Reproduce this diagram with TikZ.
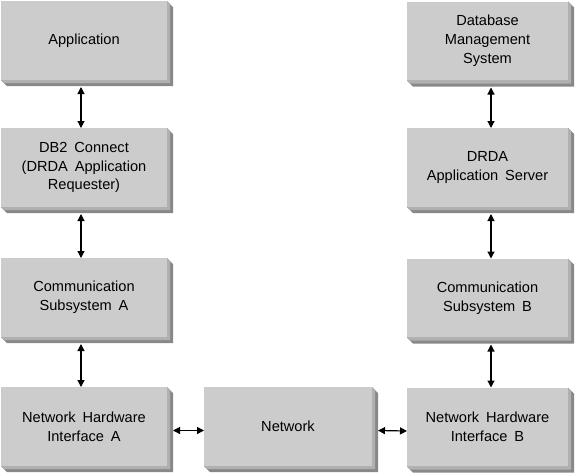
\documentclass[tikz,border=0pt]{standalone}
\usepackage{fontspec}
\setmainfont{Liberation Sans}[WordSpace=1.7]
\usetikzlibrary{arrows.meta}

\definecolor{boxgray}{RGB}{204,204,204}
\definecolor{bevelinner}{RGB}{176,176,176}
\definecolor{bevelouter}{RGB}{136,136,136}

\tikzset{
  layer/.style={rectangle, fill=boxgray, inner sep=0pt, outer sep=0pt,
    minimum height=79pt, align=center,
    font=\fontsize{14.6}{18.8}\selectfont},
  leftlayer/.style={layer, minimum width=166pt},
  rightlayer/.style={layer, minimum width=161pt},
  link/.style={line width=1.2pt, {Triangle[length=7pt,width=7pt]}-{Triangle[length=7pt,width=7pt]}}
}

\begin{document}
\begin{tikzpicture}[x=1pt,y=-1pt]
    \useasboundingbox (0,0) rectangle (581,475);

    % Draw the requester side
    \node[leftlayer] (app)  at (84,40.5)  {Application};
    \node[leftlayer] (db2)  at (84,167.5) {DB2 Connect\\(DRDA Application\\Requester)};
    \node[leftlayer] (comA) at (84,297.5) {Communication\\Subsystem A};
    \node[leftlayer] (hwA)  at (84,426.5) {Network Hardware\\Interface A};

    % Draw the network in the middle
    \node[layer, minimum width=168pt] (net) at (288,426.5) {Network};

    % Draw the server side
    \node[rightlayer] (dbms) at (487.5,41)    {Database\\Management\\System};
    \node[rightlayer] (drda) at (487.5,167.5) {DRDA\\Application Server};
    \node[rightlayer] (comB) at (487.5,298)   {Communication\\Subsystem B};
    \node[rightlayer] (hwB)  at (487.5,427)   {Network Hardware\\Interface B};

    % Draw the bevelled edges
    \foreach \n in {app,db2,comA,hwA,net,dbms,drda,comB,hwB} {
      \fill[bevelouter] (\n.north east) -- ([shift={(6,6)}]\n.north east)
        -- ([shift={(6,6)}]\n.south east) -- ([shift={(6,6)}]\n.south west)
        -- (\n.south west) -- (\n.south east) -- cycle;
      \fill[bevelinner] (\n.north east) -- ([shift={(3,3)}]\n.north east)
        -- ([shift={(3,3)}]\n.south east) -- ([shift={(3,3)}]\n.south west)
        -- (\n.south west) -- (\n.south east) -- cycle;
    }

    % Draw the vertical links
    \draw[link] ([shift={(-3,7)}]app.south)  -- ([xshift=-3pt]db2.north);
    \draw[link] ([shift={(-3,7)}]db2.south)  -- ([xshift=-3pt]comA.north);
    \draw[link] ([shift={(-3,7)}]comA.south) -- ([xshift=-3pt]hwA.north);
    \draw[link] ([shift={(3.5,7)}]dbms.south) -- ([xshift=3.5pt]drda.north);
    \draw[link] ([shift={(3.5,7)}]drda.south) -- ([xshift=3.5pt]comB.north);
    \draw[link] ([shift={(3.5,7)}]comB.south) -- ([xshift=3.5pt]hwB.north);

    % Draw the horizontal links
    \draw[link] ([shift={(6,4)}]hwA.east) -- ([shift={(0,4)}]net.west);
    \draw[link] ([shift={(6,4)}]net.east) -- ([shift={(0,4)}]hwB.west);
  \end{tikzpicture}
\end{document}
